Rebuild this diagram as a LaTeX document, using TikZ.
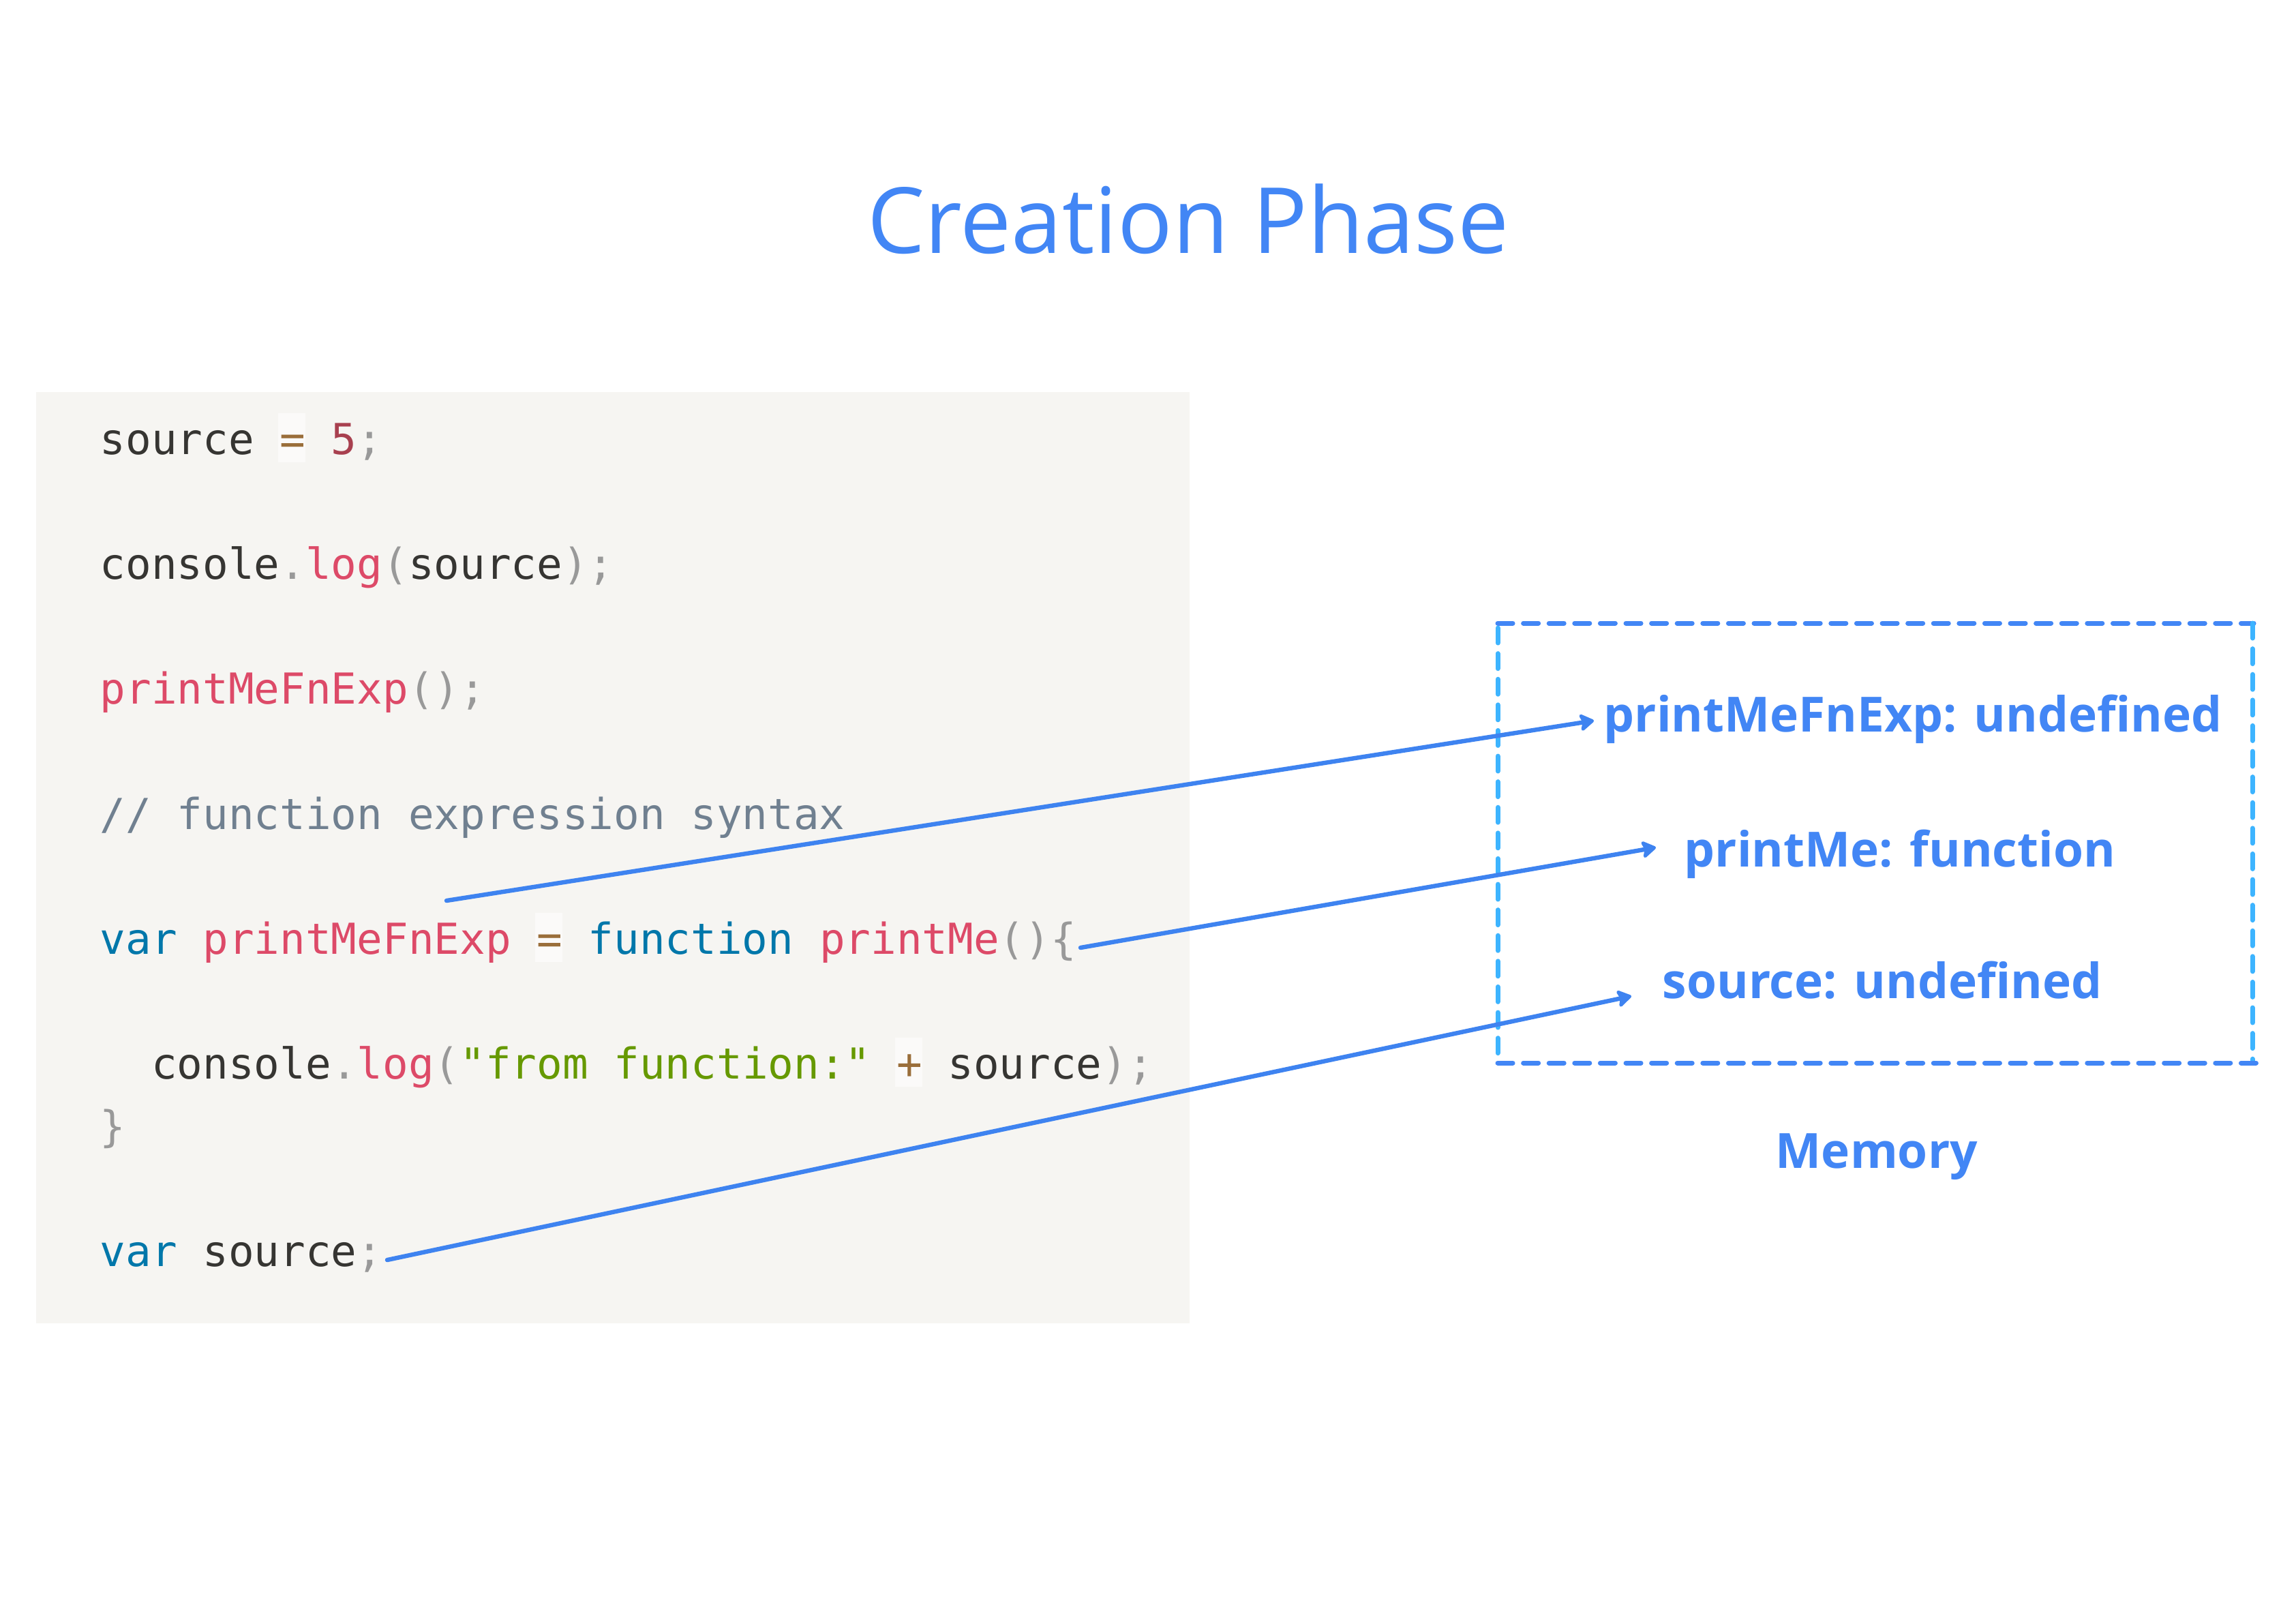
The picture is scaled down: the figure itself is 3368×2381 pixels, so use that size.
\documentclass[tikz,border=0pt]{standalone}
\usepackage{fontspec}
\usetikzlibrary{arrows.meta}
\newfontfamily\codefont{DejaVu Sans Mono}
\newfontfamily\titlefont{Open Sans}
\newfontfamily\memfont{Open Sans}
\definecolor{titleblue}{HTML}{4286F5}
\definecolor{arrowblue}{HTML}{3E83F0}
\definecolor{dashtop}{HTML}{4286F5}
\definecolor{dashside}{HTML}{3DB4FF}
\definecolor{codebg}{HTML}{F6F5F2}
\definecolor{opbg}{HTML}{FBFAF9}
\definecolor{codetext}{HTML}{363532}
\definecolor{kw}{HTML}{0077AA}
\definecolor{fn}{HTML}{DD4A68}
\definecolor{punct}{HTML}{999999}
\definecolor{str}{HTML}{669900}
\definecolor{op}{HTML}{9A6E3A}
\definecolor{num}{HTML}{A8404F}
\definecolor{cmt}{HTML}{708090}
\begin{document}
\begin{tikzpicture}[x=0.25pt,y=-0.25pt,
  codeline/.style={anchor=base west, inner sep=0pt, text=codetext,
    font=\codefont\fontsize{15.65pt}{23pt}\selectfont},
  memlabel/.style={anchor=base west, inner sep=0pt, text=titleblue,
    font=\memfont\bfseries\fontsize{17.8pt}{22pt}\selectfont},
  codebox/.style={anchor=north west, inner sep=0pt, fill=codebg,
    minimum width=423pt, minimum height=341.5pt},
  arr/.style={draw=arrowblue, line width=1.6pt, line cap=round,
    -{Stealth[length=6pt,width=7.5pt,inset=1.3pt,round]}},
  dashedge/.style={line width=1.75pt, line cap=round, dash pattern=on 5.5pt off 3.9pt}]
\useasboundingbox (0,0) rectangle (3368,2381);
\fill[white] (0,0) rectangle (3368,2381);

% title
\node[anchor=base, inner sep=0pt, text=titleblue,
  font=\titlefont\fontsize{33.5pt}{40pt}\selectfont] (title) at (1743,371) {Creation Phase};

% code panel
\node[codebox] (code) at (52,574) {};
\fill[opbg] (408,606) rectangle (448,678);
\fill[opbg] (785,1339) rectangle (825,1411);
\fill[opbg] (1313,1522) rectangle (1353,1594);

\node[codeline] (l1) at (146,666) {source \textcolor{op}{=} \textcolor{num}{5}\textcolor{punct}{;}};
\node[codeline] (l3) at (146,849) {console\textcolor{punct}{.}\textcolor{fn}{log}\textcolor{punct}{(}source\textcolor{punct}{);}};
\node[codeline] (l5) at (146,1032) {\textcolor{fn}{printMeFnExp}\textcolor{punct}{();}};
\node[codeline] (l7) at (146,1216) {\textcolor{cmt}{// function expression syntax}};
\node[codeline] (l9) at (146,1399) {\textcolor{kw}{var} \textcolor{fn}{printMeFnExp} \textcolor{op}{=} \textcolor{kw}{function} \textcolor{fn}{printMe}\textcolor{punct}{()\{}};
\node[codeline] (l11) at (221.4,1582) {console\textcolor{punct}{.}\textcolor{fn}{log}\textcolor{punct}{(}\textcolor{str}{"from function:"} \textcolor{op}{+} source\textcolor{punct}{);}};
\node[codeline] (l12) at (146,1674) {\textcolor{punct}{\}}};
\node[codeline] (l14) at (146,1857) {\textcolor{kw}{var} source\textcolor{punct}{;}};

% memory box
\draw[dashedge, draw=dashtop] (2197,914) -- (3306,914);
\draw[dashedge, draw=dashside] (2197,921) -- (2197,1559);
\draw[dashedge, draw=dashside] (3304,914) -- (3304,1559);
\draw[dashedge, draw=dashtop] (2197,1559) -- (3312,1559);

\node[memlabel] (m1) at (2352,1073) {printMeFnExp: undefined};
\node[memlabel] (m2) at (2470,1271) {printMe: function};
\node[memlabel] (m3) at (2438,1464) {source: undefined};
\node[memlabel] (mem) at (2604,1713) {Memory};

% connectors
\coordinate (s1) at (655,1321);
\coordinate (t1) at (2338,1057);
\coordinate (s2) at (1585,1390);
\coordinate (t2) at (2429,1243);
\coordinate (s3) at (568,1848);
\coordinate (t3) at (2393,1461);
\draw[arr] (s1) -- (t1);
\draw[arr] (s2) -- (t2);
\draw[arr] (s3) -- (t3);
\end{tikzpicture}
\end{document}
